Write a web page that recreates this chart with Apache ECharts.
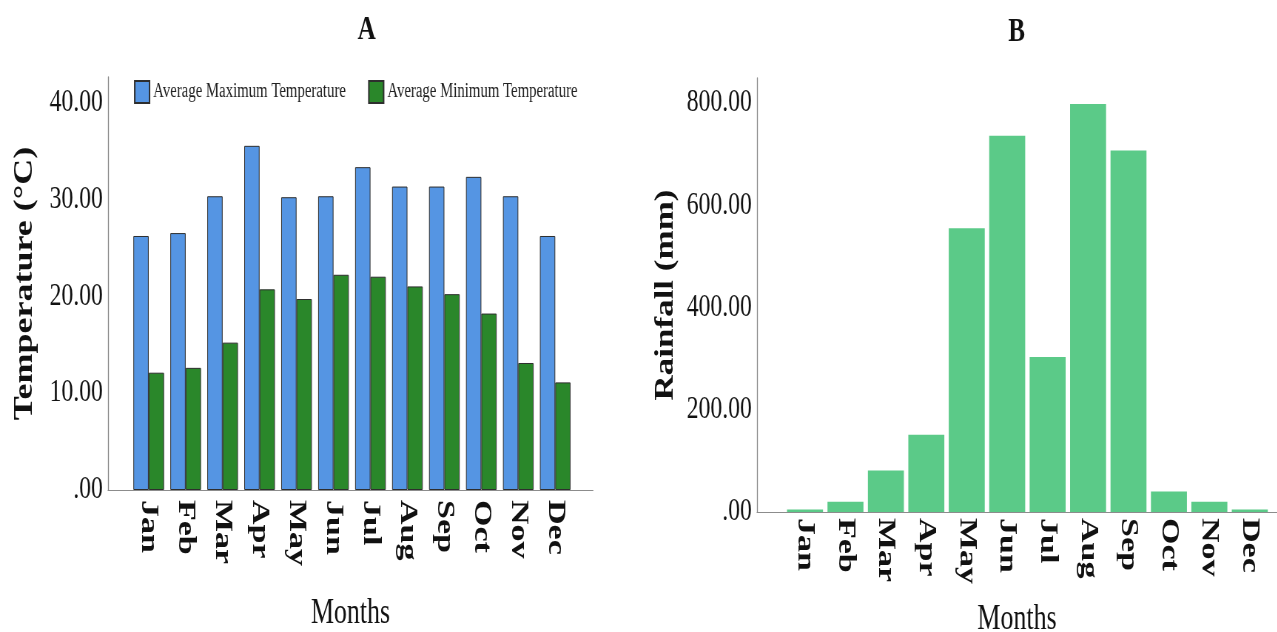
<!DOCTYPE html>
<html>
<head>
<meta charset="utf-8">
<title>Monthly temperature and rainfall</title>
<script src="https://cdn.jsdelivr.net/npm/echarts@6/dist/echarts.min.js"></script>
<style>
  html, body { margin: 0; padding: 0; background: #fff; overflow: hidden; }
  #wrap { width: 1277px; height: 632px; overflow: hidden; }
  /* the figure is drawn on a wider canvas and condensed horizontally */
  #chart { width: 1726px; height: 632px; transform: scaleX(0.74); transform-origin: 0 0; }
</style>
</head>
<body>
<div id="wrap"><div id="chart"></div></div>
<script>
// ---- data ----
const months = ['Jan', 'Feb', 'Mar', 'Apr', 'May', 'Jun', 'Jul', 'Aug', 'Sep', 'Oct', 'Nov', 'Dec'];
const avgMaxTemp = [26.2, 26.5, 30.3, 35.5, 30.2, 30.3, 33.3, 31.3, 31.3, 32.3, 30.3, 26.2];
const avgMinTemp = [12.1, 12.6, 15.2, 20.7, 19.7, 22.2, 22.0, 21.0, 20.2, 18.2, 13.1, 11.1];
const rainfall = [5, 20, 81, 151, 555, 736, 303, 798, 707, 40, 20, 5];
const tempTicks = [0, 10, 20, 30, 40];
const rainTicks = [0, 200, 400, 600, 800];

// ---- layout helpers ----
const SX = 0.74;                 // horizontal condensing factor of the page
const px = x => x / SX;          // page x -> canvas x
const FONT = '"Liberation Serif", "Times New Roman", serif';
const AXIS_GREY = '#8c8c8c';

function tickFormatter(ticks) {
  return v => ticks.includes(v) ? (v === 0 ? '.00' : v.toFixed(2)) : '';
}

function frameX(gridIndex, gap) {
  return {
    gridIndex, type: 'value', min: 0, max: 1,
    axisLine: { show: true, onZero: true, lineStyle: { color: AXIS_GREY, width: 1.2 } },
    axisTick: { show: false }, axisLabel: { show: false }, splitLine: { show: false },
    name: 'Months', nameLocation: 'middle', nameGap: gap,
    nameTextStyle: { fontFamily: FONT, fontSize: 35, color: '#111' }
  };
}
function monthAxis(gridIndex, margin) {
  return {
    gridIndex, type: 'category', data: months,
    axisLine: { show: false }, axisTick: { show: false }, splitLine: { show: false },
    axisLabel: {
      interval: 0, rotate: -90, margin,
      fontFamily: FONT, fontWeight: 'bold', fontSize: 34, color: '#111'
    }
  };
}
function frameY(gridIndex, max, interval, ticks, name, gap, nameSize) {
  return {
    gridIndex, type: 'value', min: 0, max, interval,
    axisLine: { show: true, lineStyle: { color: AXIS_GREY, width: 1.35 } },
    axisTick: { show: false }, splitLine: { show: false },
    axisLabel: {
      margin: 7, formatter: tickFormatter(ticks),
      fontFamily: FONT, fontSize: 32, color: '#111'
    },
    name, nameLocation: 'middle', nameRotate: 90, nameGap: gap,
    nameTextStyle: { fontFamily: FONT, fontWeight: 'bold', fontSize: nameSize, color: '#111' }
  };
}
function hiddenY(gridIndex, max) {
  return { gridIndex, type: 'value', min: 0, max, show: false, splitLine: { show: false } };
}

const TEMP_MAX = 42.6;
const RAIN_MAX = 849;

const gridBase = { outerBoundsMode: 'none', containLabel: false };

const option = {
  backgroundColor: '#ffffff',
  animation: false,
  title: [
    { text: 'A', left: px(363), top: 8, textAlign: 'center',
      textStyle: { fontFamily: FONT, fontWeight: 'bold', fontSize: 34, color: '#111' } },
    { text: 'B', left: px(1013), top: 10, textAlign: 'center',
      textStyle: { fontFamily: FONT, fontWeight: 'bold', fontSize: 34, color: '#111' } }
  ],
  legend: {
    data: ['Average Maximum Temperature', 'Average Minimum Temperature'],
    left: px(134), top: 80, padding: 0,
    itemWidth: 20, itemHeight: 22, itemGap: 30,
    icon: 'rect',
    textStyle: { fontFamily: FONT, fontSize: 20, color: '#222' }
  },
  grid: [
    Object.assign({ left: px(108),   width: px(593 - 108),     top: 77, bottom: 142 }, gridBase),  // frame A
    Object.assign({ left: px(130.2), width: px(573.7 - 130.2), top: 77, bottom: 142 }, gridBase),  // bars A
    Object.assign({ left: px(757),   width: px(1277 - 757),    top: 78, bottom: 120 }, gridBase),  // frame B
    Object.assign({ left: px(784.8), width: px(1270 - 784.8),  top: 78, bottom: 120 }, gridBase)   // bars B
  ],
  xAxis: [
    frameX(0, 106),
    monthAxis(1, 10),
    frameX(2, 90),
    monthAxis(3, 6)
  ],
  yAxis: [
    frameY(0, TEMP_MAX, 10, tempTicks, 'Temperature (°C)', 94, 36),
    hiddenY(1, TEMP_MAX),
    frameY(2, RAIN_MAX, 200, rainTicks, 'Rainfall (mm)', 106, 35),
    hiddenY(3, RAIN_MAX)
  ],
  series: [
    {
      name: 'Average Maximum Temperature', type: 'bar',
      xAxisIndex: 1, yAxisIndex: 1, data: avgMaxTemp,
      barGap: '0%', barCategoryGap: '17%',
      itemStyle: { color: '#5595e3', borderColor: '#2e2e2e', borderWidth: 1 }
    },
    {
      name: 'Average Minimum Temperature', type: 'bar',
      xAxisIndex: 1, yAxisIndex: 1, data: avgMinTemp,
      barGap: '0%', barCategoryGap: '17%',
      itemStyle: { color: '#2a872a', borderColor: '#2e2e2e', borderWidth: 1 }
    },
    {
      name: 'Rainfall', type: 'bar',
      xAxisIndex: 3, yAxisIndex: 3, data: rainfall,
      barCategoryGap: '11%',
      itemStyle: { color: '#5bca88' }
    }
  ]
};

const chart = echarts.init(document.getElementById('chart'), null, { renderer: 'canvas' });
chart.setOption(option);
</script>
</body>
</html>
